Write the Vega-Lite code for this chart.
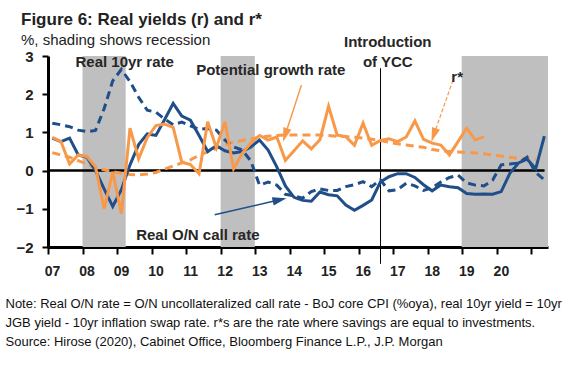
{
 "$schema": "https://vega.github.io/schema/vega-lite/v6.json",
 "width": 500,
 "height": 191,
 "autosize": {"type": "none"},
 "padding": {"left": 48, "top": 56, "right": 33, "bottom": 118},
 "background": "white",
 "config": {"view": {"stroke": null}, "font": "Liberation Sans", "axis": {"labelOverlap": false, "labelBound": false}},
 "title": {
  "text": "Figure 6: Real yields (r) and r*",
  "subtitle": "%, shading shows recession",
  "anchor": "start",
  "frame": "group",
  "dx": -27,
  "dy": 18,
  "offset": 4,
  "fontSize": 17,
  "fontWeight": "bold",
  "color": "#222222",
  "subtitleFontSize": 15,
  "subtitleColor": "#222222",
  "subtitlePadding": 4,
  "font": "Liberation Sans",
  "subtitleFont": "Liberation Sans"
 },
 "datasets": {
  "recessions": [
   {"t": 2008.0, "t2": 2009.25},
   {"t": 2012.0, "t2": 2012.99},
   {"t": 2018.98, "t2": 2021.48}
  ],
  "refs": [
   {"id": "zero", "t": 2007.0, "t2": 2021.38, "v": 0},
   {"id": "ycc", "t": 2016.63, "v": 2.68, "v2": -2.44}
  ],
  "arrows": [
   {"id": "pg", "t": 2014.339, "v": 2.238, "t2": 2013.869, "v2": 0.932},
   {"id": "on", "t": 2011.827, "v": -1.157, "t2": 2013.707, "v2": -0.762},
   {"id": "rs", "t": 2018.729, "v": 2.368, "t2": 2018.17, "v2": 0.93}
  ],
  "labels": [
   {"t": 2009.22, "v": 2.7, "label": "Real 10yr rate"},
   {"t": 2013.45, "v": 2.5, "label": "Potential growth rate"},
   {"t": 2016.84, "v": 3.24, "label": "Introduction"},
   {"t": 2016.84, "v": 2.7, "label": "of YCC"},
   {"t": 2018.85, "v": 2.32, "label": "r*"},
   {"t": 2011.34, "v": -1.81, "label": "Real O/N call rate"}
  ],
  "series": [
   {"s": "on", "t": 2007.125, "v": 0.85}, {"s": "on", "t": 2007.375, "v": 0.76}, {"s": "on", "t": 2007.625, "v": 0.85}, {"s": "on", "t": 2007.875, "v": 0.41},
   {"s": "on", "t": 2008.125, "v": 0.35}, {"s": "on", "t": 2008.375, "v": 0.0}, {"s": "on", "t": 2008.625, "v": -0.48}, {"s": "on", "t": 2008.875, "v": -0.94},
   {"s": "on", "t": 2009.125, "v": -0.5}, {"s": "on", "t": 2009.375, "v": 0.15}, {"s": "on", "t": 2009.625, "v": 0.68}, {"s": "on", "t": 2009.875, "v": 0.96},
   {"s": "on", "t": 2010.125, "v": 0.92}, {"s": "on", "t": 2010.375, "v": 1.33}, {"s": "on", "t": 2010.625, "v": 1.76}, {"s": "on", "t": 2010.875, "v": 1.43},
   {"s": "on", "t": 2011.125, "v": 1.32}, {"s": "on", "t": 2011.375, "v": 0.92}, {"s": "on", "t": 2011.625, "v": 0.5}, {"s": "on", "t": 2011.875, "v": 0.65},
   {"s": "on", "t": 2012.125, "v": 0.52}, {"s": "on", "t": 2012.375, "v": 0.46}, {"s": "on", "t": 2012.625, "v": 0.5}, {"s": "on", "t": 2012.875, "v": 0.62},
   {"s": "on", "t": 2013.125, "v": 0.8}, {"s": "on", "t": 2013.375, "v": 0.54}, {"s": "on", "t": 2013.625, "v": 0.1}, {"s": "on", "t": 2013.875, "v": -0.4},
   {"s": "on", "t": 2014.125, "v": -0.7}, {"s": "on", "t": 2014.375, "v": -0.78}, {"s": "on", "t": 2014.625, "v": -0.8}, {"s": "on", "t": 2014.875, "v": -0.56},
   {"s": "on", "t": 2015.125, "v": -0.63}, {"s": "on", "t": 2015.375, "v": -0.66}, {"s": "on", "t": 2015.625, "v": -0.9}, {"s": "on", "t": 2015.875, "v": -1.04},
   {"s": "on", "t": 2016.125, "v": -0.91}, {"s": "on", "t": 2016.375, "v": -0.77}, {"s": "on", "t": 2016.625, "v": -0.3}, {"s": "on", "t": 2016.875, "v": -0.16},
   {"s": "on", "t": 2017.125, "v": -0.08}, {"s": "on", "t": 2017.375, "v": -0.08}, {"s": "on", "t": 2017.625, "v": -0.18}, {"s": "on", "t": 2017.875, "v": -0.37},
   {"s": "on", "t": 2018.125, "v": -0.53}, {"s": "on", "t": 2018.375, "v": -0.38}, {"s": "on", "t": 2018.625, "v": -0.42}, {"s": "on", "t": 2018.875, "v": -0.45},
   {"s": "on", "t": 2019.125, "v": -0.6}, {"s": "on", "t": 2019.375, "v": -0.62}, {"s": "on", "t": 2019.625, "v": -0.61}, {"s": "on", "t": 2019.875, "v": -0.62},
   {"s": "on", "t": 2020.125, "v": -0.55}, {"s": "on", "t": 2020.375, "v": -0.07}, {"s": "on", "t": 2020.625, "v": 0.2}, {"s": "on", "t": 2020.875, "v": 0.3},
   {"s": "on", "t": 2021.125, "v": 0.05}, {"s": "on", "t": 2021.375, "v": 0.9},

   {"s": "10y", "t": 2007.125, "v": 1.24}, {"s": "10y", "t": 2007.375, "v": 1.2}, {"s": "10y", "t": 2007.625, "v": 1.15}, {"s": "10y", "t": 2007.875, "v": 1.06},
   {"s": "10y", "t": 2008.125, "v": 1.02}, {"s": "10y", "t": 2008.375, "v": 1.05}, {"s": "10y", "t": 2008.625, "v": 1.62}, {"s": "10y", "t": 2008.875, "v": 2.35},
   {"s": "10y", "t": 2009.125, "v": 2.65}, {"s": "10y", "t": 2009.375, "v": 2.33}, {"s": "10y", "t": 2009.625, "v": 1.92}, {"s": "10y", "t": 2009.875, "v": 1.58},
   {"s": "10y", "t": 2010.125, "v": 1.53}, {"s": "10y", "t": 2010.375, "v": 1.35}, {"s": "10y", "t": 2010.625, "v": 1.2}, {"s": "10y", "t": 2010.875, "v": 1.27},
   {"s": "10y", "t": 2011.125, "v": 1.17}, {"s": "10y", "t": 2011.375, "v": 1.08}, {"s": "10y", "t": 2011.625, "v": 1.1}, {"s": "10y", "t": 2011.875, "v": 1.06},
   {"s": "10y", "t": 2012.125, "v": 0.8}, {"s": "10y", "t": 2012.375, "v": 0.62}, {"s": "10y", "t": 2012.625, "v": 0.54}, {"s": "10y", "t": 2012.875, "v": 0.25},
   {"s": "10y", "t": 2013.125, "v": -0.38}, {"s": "10y", "t": 2013.375, "v": -0.3}, {"s": "10y", "t": 2013.625, "v": -0.38}, {"s": "10y", "t": 2013.875, "v": -0.62},
   {"s": "10y", "t": 2014.125, "v": -0.66}, {"s": "10y", "t": 2014.375, "v": -0.72}, {"s": "10y", "t": 2014.625, "v": -0.55}, {"s": "10y", "t": 2014.875, "v": -0.48},
   {"s": "10y", "t": 2015.125, "v": -0.52}, {"s": "10y", "t": 2015.375, "v": -0.52}, {"s": "10y", "t": 2015.625, "v": -0.42}, {"s": "10y", "t": 2015.875, "v": -0.37},
   {"s": "10y", "t": 2016.125, "v": -0.29}, {"s": "10y", "t": 2016.375, "v": -0.42}, {"s": "10y", "t": 2016.625, "v": -0.24}, {"s": "10y", "t": 2016.875, "v": -0.53},
   {"s": "10y", "t": 2017.125, "v": -0.5}, {"s": "10y", "t": 2017.375, "v": -0.33}, {"s": "10y", "t": 2017.625, "v": -0.4}, {"s": "10y", "t": 2017.875, "v": -0.52},
   {"s": "10y", "t": 2018.125, "v": -0.45}, {"s": "10y", "t": 2018.375, "v": -0.3}, {"s": "10y", "t": 2018.625, "v": -0.18}, {"s": "10y", "t": 2018.875, "v": -0.12},
   {"s": "10y", "t": 2019.125, "v": -0.32}, {"s": "10y", "t": 2019.375, "v": -0.38}, {"s": "10y", "t": 2019.625, "v": -0.4}, {"s": "10y", "t": 2019.875, "v": -0.25},
   {"s": "10y", "t": 2020.125, "v": 0.15}, {"s": "10y", "t": 2020.375, "v": 0.17}, {"s": "10y", "t": 2020.625, "v": 0.2}, {"s": "10y", "t": 2020.875, "v": 0.35},
   {"s": "10y", "t": 2021.125, "v": -0.05}, {"s": "10y", "t": 2021.375, "v": -0.24},

   {"s": "pg", "t": 2007.125, "v": 0.87}, {"s": "pg", "t": 2007.375, "v": 0.76}, {"s": "pg", "t": 2007.625, "v": 0.17}, {"s": "pg", "t": 2007.875, "v": 0.41},
   {"s": "pg", "t": 2008.125, "v": 0.37}, {"s": "pg", "t": 2008.375, "v": 0.1}, {"s": "pg", "t": 2008.625, "v": -1.0}, {"s": "pg", "t": 2008.875, "v": -0.03},
   {"s": "pg", "t": 2009.125, "v": -1.13}, {"s": "pg", "t": 2009.375, "v": 1.11}, {"s": "pg", "t": 2009.625, "v": 0.31}, {"s": "pg", "t": 2009.875, "v": 0.87},
   {"s": "pg", "t": 2010.125, "v": 1.18}, {"s": "pg", "t": 2010.375, "v": 1.22}, {"s": "pg", "t": 2010.625, "v": 1.13}, {"s": "pg", "t": 2010.875, "v": 0.22},
   {"s": "pg", "t": 2011.125, "v": 0.16}, {"s": "pg", "t": 2011.375, "v": -0.08}, {"s": "pg", "t": 2011.625, "v": 1.28}, {"s": "pg", "t": 2011.875, "v": 0.6},
   {"s": "pg", "t": 2012.125, "v": 1.28}, {"s": "pg", "t": 2012.375, "v": 0.05}, {"s": "pg", "t": 2012.625, "v": 0.45}, {"s": "pg", "t": 2012.875, "v": 0.72},
   {"s": "pg", "t": 2013.125, "v": 0.92}, {"s": "pg", "t": 2013.375, "v": 0.8}, {"s": "pg", "t": 2013.625, "v": 0.88}, {"s": "pg", "t": 2013.875, "v": 0.27},
   {"s": "pg", "t": 2014.125, "v": 0.52}, {"s": "pg", "t": 2014.375, "v": 0.78}, {"s": "pg", "t": 2014.625, "v": 0.57}, {"s": "pg", "t": 2014.875, "v": 0.81},
   {"s": "pg", "t": 2015.125, "v": 1.68}, {"s": "pg", "t": 2015.375, "v": 0.93}, {"s": "pg", "t": 2015.625, "v": 0.89}, {"s": "pg", "t": 2015.875, "v": 0.66},
   {"s": "pg", "t": 2016.125, "v": 1.24}, {"s": "pg", "t": 2016.375, "v": 0.66}, {"s": "pg", "t": 2016.625, "v": 0.79}, {"s": "pg", "t": 2016.875, "v": 0.83},
   {"s": "pg", "t": 2017.125, "v": 0.76}, {"s": "pg", "t": 2017.375, "v": 0.88}, {"s": "pg", "t": 2017.625, "v": 1.3}, {"s": "pg", "t": 2017.875, "v": 0.82},
   {"s": "pg", "t": 2018.125, "v": 0.72}, {"s": "pg", "t": 2018.375, "v": 0.67}, {"s": "pg", "t": 2018.625, "v": 0.41}, {"s": "pg", "t": 2018.875, "v": 0.76},
   {"s": "pg", "t": 2019.125, "v": 1.11}, {"s": "pg", "t": 2019.375, "v": 0.8}, {"s": "pg", "t": 2019.625, "v": 0.89},

   {"s": "rs", "t": 2007.125, "v": 0.47}, {"s": "rs", "t": 2007.375, "v": 0.41}, {"s": "rs", "t": 2007.625, "v": 0.35}, {"s": "rs", "t": 2007.875, "v": 0.26},
   {"s": "rs", "t": 2008.125, "v": 0.17}, {"s": "rs", "t": 2008.375, "v": 0.08}, {"s": "rs", "t": 2008.625, "v": 0.02}, {"s": "rs", "t": 2008.875, "v": -0.03},
   {"s": "rs", "t": 2009.125, "v": -0.07}, {"s": "rs", "t": 2009.375, "v": -0.1}, {"s": "rs", "t": 2009.625, "v": -0.11}, {"s": "rs", "t": 2009.875, "v": -0.09},
   {"s": "rs", "t": 2010.125, "v": -0.05}, {"s": "rs", "t": 2010.375, "v": 0.04}, {"s": "rs", "t": 2010.625, "v": 0.12}, {"s": "rs", "t": 2010.875, "v": 0.2},
   {"s": "rs", "t": 2011.125, "v": 0.28}, {"s": "rs", "t": 2011.375, "v": 0.4}, {"s": "rs", "t": 2011.625, "v": 0.49}, {"s": "rs", "t": 2011.875, "v": 0.58},
   {"s": "rs", "t": 2012.125, "v": 0.67}, {"s": "rs", "t": 2012.375, "v": 0.75}, {"s": "rs", "t": 2012.625, "v": 0.79}, {"s": "rs", "t": 2012.875, "v": 0.83},
   {"s": "rs", "t": 2013.125, "v": 0.87}, {"s": "rs", "t": 2013.375, "v": 0.9}, {"s": "rs", "t": 2013.625, "v": 0.92}, {"s": "rs", "t": 2013.875, "v": 0.93},
   {"s": "rs", "t": 2014.125, "v": 0.93}, {"s": "rs", "t": 2014.375, "v": 0.93}, {"s": "rs", "t": 2014.625, "v": 0.93}, {"s": "rs", "t": 2014.875, "v": 0.93},
   {"s": "rs", "t": 2015.125, "v": 0.92}, {"s": "rs", "t": 2015.375, "v": 0.9}, {"s": "rs", "t": 2015.625, "v": 0.89}, {"s": "rs", "t": 2015.875, "v": 0.87},
   {"s": "rs", "t": 2016.125, "v": 0.85}, {"s": "rs", "t": 2016.375, "v": 0.82}, {"s": "rs", "t": 2016.625, "v": 0.79}, {"s": "rs", "t": 2016.875, "v": 0.74},
   {"s": "rs", "t": 2017.125, "v": 0.7}, {"s": "rs", "t": 2017.375, "v": 0.67}, {"s": "rs", "t": 2017.625, "v": 0.64}, {"s": "rs", "t": 2017.875, "v": 0.61},
   {"s": "rs", "t": 2018.125, "v": 0.55}, {"s": "rs", "t": 2018.375, "v": 0.52}, {"s": "rs", "t": 2018.625, "v": 0.5}, {"s": "rs", "t": 2018.875, "v": 0.49},
   {"s": "rs", "t": 2019.125, "v": 0.47}, {"s": "rs", "t": 2019.375, "v": 0.46}, {"s": "rs", "t": 2019.625, "v": 0.44}, {"s": "rs", "t": 2019.875, "v": 0.41},
   {"s": "rs", "t": 2020.125, "v": 0.38}, {"s": "rs", "t": 2020.375, "v": 0.35}, {"s": "rs", "t": 2020.625, "v": 0.32}, {"s": "rs", "t": 2020.875, "v": 0.31},
   {"s": "rs", "t": 2021.125, "v": 0.3}
  ]
 },
 "layer": [
  {
   "data": {"name": "recessions"},
   "mark": {"type": "rect", "color": "#c0bfc0"},
   "encoding": {
    "x": {
     "field": "t", "type": "quantitative",
     "scale": {"domain": [2007, 2021.48], "nice": false, "zero": false},
     "axis": {
      "values": [2007, 2008, 2009, 2010, 2011, 2012, 2013, 2014, 2015, 2016, 2017, 2018, 2019, 2020, 2021],
      "tickCount": 40,
      "labelExpr": "datum.value < 2021 ? slice(toString(datum.value), 2) : ''",
      "labelOffset": 4,
      "labelFlush": false,
      "labelOverlap": false,
      "labelFontSize": 14,
      "labelFontWeight": "bold",
      "labelColor": "#222222",
      "labelPadding": 10,
      "tickSize": 7,
      "tickWidth": 2,
      "tickColor": "#000000",
      "domainColor": "#000000",
      "domainWidth": 3,
      "grid": false,
      "title": [
       "Note: Real O/N rate = O/N uncollateralized call rate - BoJ core CPI (%oya), real 10yr yield = 10yr",
       "JGB yield - 10yr inflation swap rate. r*s are the rate where savings are equal to investments.",
       "Source: Hirose (2020), Cabinet Office, Bloomberg Finance L.P., J.P. Morgan"
      ],
      "titleFont": "Liberation Sans",
      "titleFontSize": 13,
      "titleFontWeight": "normal",
      "titleColor": "#111111",
      "titleAnchor": "start",
      "titleAlign": "left",
      "titleBaseline": "alphabetic",
      "titleX": -43,
      "titleY": 60,
      "titleLineHeight": 19
     }
    },
    "x2": {"field": "t2"}
   }
  },
  {
   "data": {"name": "refs"},
   "transform": [{"filter": "datum.id === 'zero'"}],
   "mark": {"type": "rule", "color": "#000000", "strokeWidth": 2.5},
   "encoding": {
    "x": {"field": "t", "type": "quantitative"},
    "x2": {"field": "t2"},
    "y": {
     "field": "v", "type": "quantitative",
     "scale": {"domain": [-2, 3], "nice": false, "zero": false},
     "axis": {
      "values": [-2, -1, 0, 1, 2, 3],
      "tickCount": 40,
      "format": "d",
      "title": null,
      "labelOverlap": false,
      "labelFontSize": 15,
      "labelFontWeight": "bold",
      "labelColor": "#222222",
      "labelPadding": 9,
      "tickSize": 6,
      "tickWidth": 2,
      "tickColor": "#000000",
      "domainColor": "#000000",
      "domainWidth": 3,
      "grid": false
     }
    }
   }
  },
  {
   "data": {"name": "refs"},
   "transform": [{"filter": "datum.id === 'ycc'"}],
   "mark": {"type": "rule", "color": "#000000", "strokeWidth": 1},
   "encoding": {
    "x": {"field": "t", "type": "quantitative"},
    "y": {"field": "v", "type": "quantitative"},
    "y2": {"field": "v2"}
   }
  },
  {
   "data": {"name": "series"},
   "transform": [{"filter": "datum.s === 'rs'"}],
   "mark": {"type": "line", "color": "#f8994a", "strokeWidth": 3, "strokeDash": [8, 5]},
   "encoding": {
    "x": {"field": "t", "type": "quantitative"},
    "y": {"field": "v", "type": "quantitative"}
   }
  },
  {
   "data": {"name": "series"},
   "transform": [{"filter": "datum.s === '10y'"}],
   "mark": {"type": "line", "color": "#1f4e89", "strokeWidth": 3, "strokeDash": [8, 5]},
   "encoding": {
    "x": {"field": "t", "type": "quantitative"},
    "y": {"field": "v", "type": "quantitative"}
   }
  },
  {
   "data": {"name": "series"},
   "transform": [{"filter": "datum.s === 'on'"}],
   "mark": {"type": "line", "color": "#1f4e89", "strokeWidth": 3},
   "encoding": {
    "x": {"field": "t", "type": "quantitative"},
    "y": {"field": "v", "type": "quantitative"}
   }
  },
  {
   "data": {"name": "series"},
   "transform": [{"filter": "datum.s === 'pg'"}],
   "mark": {"type": "line", "color": "#f8994a", "strokeWidth": 3},
   "encoding": {
    "x": {"field": "t", "type": "quantitative"},
    "y": {"field": "v", "type": "quantitative"}
   }
  },
  {
   "data": {"name": "arrows"},
   "transform": [{"filter": "datum.id === 'pg'"}],
   "mark": {"type": "rule", "color": "#f8994a", "strokeWidth": 1.5},
   "encoding": {
    "x": {"field": "t", "type": "quantitative"}, "y": {"field": "v", "type": "quantitative"},
    "x2": {"field": "t2"}, "y2": {"field": "v2"}
   }
  },
  {
   "data": {"name": "arrows"},
   "transform": [{"filter": "datum.id === 'rs'"}],
   "mark": {"type": "rule", "color": "#f8994a", "strokeWidth": 1.2, "strokeDash": [4, 2]},
   "encoding": {
    "x": {"field": "t", "type": "quantitative"}, "y": {"field": "v", "type": "quantitative"},
    "x2": {"field": "t2"}, "y2": {"field": "v2"}
   }
  },
  {
   "data": {"name": "arrows"},
   "transform": [{"filter": "datum.id === 'on'"}],
   "mark": {"type": "rule", "color": "#1f4e89", "strokeWidth": 1.5},
   "encoding": {
    "x": {"field": "t", "type": "quantitative"}, "y": {"field": "v", "type": "quantitative"},
    "x2": {"field": "t2"}, "y2": {"field": "v2"}
   }
  },
  {
   "data": {"name": "arrows"},
   "transform": [{"filter": "datum.id === 'pg'"}],
   "mark": {"type": "point", "shape": "M0,-1L0.6,1L-0.6,1Z", "filled": true, "opacity": 1, "color": "#f8994a", "size": 196, "angle": 198},
   "encoding": {
    "x": {"field": "t2", "type": "quantitative"}, "y": {"field": "v2", "type": "quantitative"}
   }
  },
  {
   "data": {"name": "arrows"},
   "transform": [{"filter": "datum.id === 'rs'"}],
   "mark": {"type": "point", "shape": "M0,-1L0.6,1L-0.6,1Z", "filled": true, "opacity": 1, "color": "#f8994a", "size": 196, "angle": 199},
   "encoding": {
    "x": {"field": "t2", "type": "quantitative"}, "y": {"field": "v2", "type": "quantitative"}
   }
  },
  {
   "data": {"name": "arrows"},
   "transform": [{"filter": "datum.id === 'on'"}],
   "mark": {"type": "point", "shape": "M0,-1L0.6,1L-0.6,1Z", "filled": true, "opacity": 1, "color": "#1f4e89", "size": 196, "angle": 77},
   "encoding": {
    "x": {"field": "t2", "type": "quantitative"}, "y": {"field": "v2", "type": "quantitative"}
   }
  },
  {
   "data": {"name": "labels"},
   "mark": {"type": "text", "fontSize": 15, "fontWeight": "bold", "color": "#262626", "align": "center", "baseline": "alphabetic", "font": "Liberation Sans"},
   "encoding": {
    "x": {"field": "t", "type": "quantitative"},
    "y": {"field": "v", "type": "quantitative"},
    "text": {"field": "label"}
   }
  }
 ]
}
